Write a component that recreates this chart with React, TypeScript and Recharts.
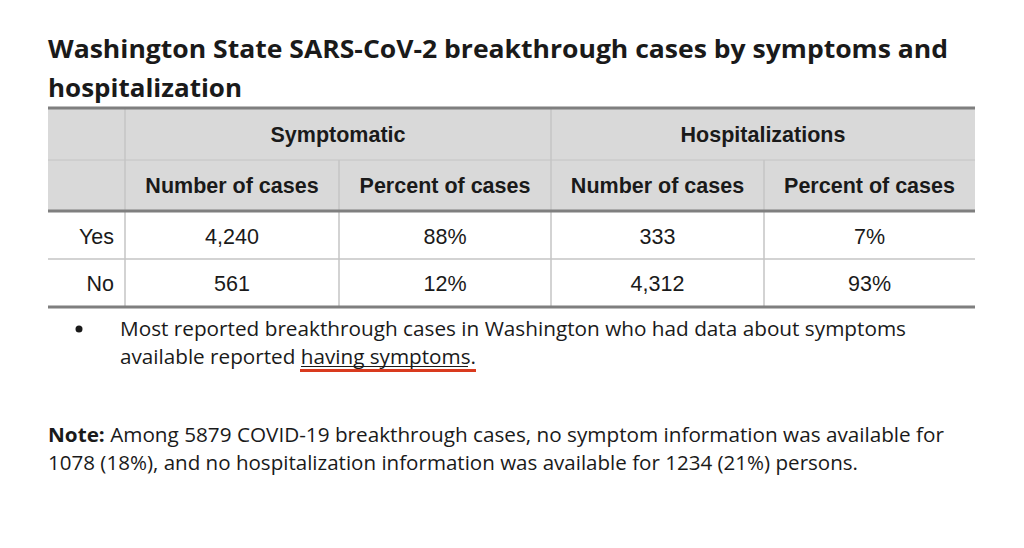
import React from 'react'
import { Surface, Rectangle, Text } from 'recharts'

const rowLabels = ['Yes', 'No']
const groupLabels = ['Symptomatic', 'Hospitalizations']
const subLabels = ['Number of cases', 'Percent of cases']
const symptomaticCases = [4240, 561]
const symptomaticPercent = [88, 12]
const hospitalizedCases = [333, 4312]
const hospitalizedPercent = [7, 93]

const colEdges = [48, 125, 339, 551, 764, 975]
const rowEdges = [108, 160, 211, 259, 307]

const INK = '#1a1a1a'
const HEAD_BG = '#d9d9d9'
const THICK = '#7f7f7f'
const THIN = '#c4c4c4'
const ARIAL = '"Liberation Sans", Arial, sans-serif'
const BODY = '"Open Sans", "Noto Sans", sans-serif'
const CELL_SIZE = 21.5

const fmt = (n: number) => n.toLocaleString('en-US')

export default function App() {
  const cells = [
    symptomaticCases.map(fmt),
    symptomaticPercent.map((v) => `${v}%`),
    hospitalizedCases.map(fmt),
    hospitalizedPercent.map((v) => `${v}%`),
  ]
  const mid = (a: number, b: number) => (a + b) / 2

  return (
    <div style={{ position: 'absolute', left: 0, top: 0, width: 1024, height: 548, background: '#fff' }}>
      <Surface width={1024} height={548} viewBox={{ x: 0, y: 0, width: 1024, height: 548 }}>
        {/* title */}
        <text x={48} y={58} fontFamily={BODY} fontWeight={700} fontSize={25} fill={INK}
          textLength={900} lengthAdjust="spacingAndGlyphs">
          Washington State SARS-CoV-2 breakthrough cases by symptoms and
        </text>
        <text x={48} y={97} fontFamily={BODY} fontWeight={700} fontSize={25} fill={INK}
          textLength={194} lengthAdjust="spacingAndGlyphs">
          hospitalization
        </text>

        {/* header background */}
        <Rectangle x={colEdges[0]} y={rowEdges[0]} width={colEdges[5] - colEdges[0]}
          height={rowEdges[2] - rowEdges[0]} fill={HEAD_BG} />

        {/* thin grid */}
        <line x1={colEdges[0]} x2={colEdges[5]} y1={rowEdges[1]} y2={rowEdges[1]} stroke={THIN} strokeWidth={1} />
        <line x1={colEdges[0]} x2={colEdges[5]} y1={rowEdges[3]} y2={rowEdges[3]} stroke={THIN} strokeWidth={1.5} />
        {[1, 3].map((i) => (
          <line key={`v${i}`} x1={colEdges[i]} x2={colEdges[i]} y1={rowEdges[0]} y2={rowEdges[4]} stroke={THIN} strokeWidth={1.5} />
        ))}
        {[2, 4].map((i) => (
          <line key={`w${i}`} x1={colEdges[i]} x2={colEdges[i]} y1={rowEdges[1]} y2={rowEdges[4]} stroke={THIN} strokeWidth={1.5} />
        ))}

        {/* thick rules */}
        {[0, 2, 4].map((i) => (
          <line key={`h${i}`} x1={colEdges[0]} x2={colEdges[5]} y1={rowEdges[i]} y2={rowEdges[i]} stroke={THICK} strokeWidth={3} />
        ))}

        {/* group headers */}
        {groupLabels.map((g, gi) => (
          <Text key={g} x={mid(colEdges[1 + gi * 2], colEdges[3 + gi * 2])} y={142} textAnchor="middle"
            fontFamily={ARIAL} fontWeight={700} fontSize={CELL_SIZE} fill={INK}>
            {g}
          </Text>
        ))}
        {[0, 1, 2, 3].map((c) => (
          <Text key={`s${c}`} x={mid(colEdges[c + 1], colEdges[c + 2])} y={193} textAnchor="middle"
            fontFamily={ARIAL} fontWeight={700} fontSize={CELL_SIZE} fill={INK}>
            {subLabels[c % 2]}
          </Text>
        ))}

        {/* body */}
        {rowLabels.map((r, ri) => (
          <g key={r}>
            <Text x={114} y={244 + ri * 47} textAnchor="end" fontFamily={ARIAL} fontSize={CELL_SIZE} fill={INK}>
              {r}
            </Text>
            {cells.map((col, c) => (
              <Text key={c} x={mid(colEdges[c + 1], colEdges[c + 2])} y={244 + ri * 47} textAnchor="middle"
                fontFamily={ARIAL} fontSize={CELL_SIZE} fill={INK}>
                {col[ri]}
              </Text>
            ))}
          </g>
        ))}

        {/* bullet */}
        <circle cx={79} cy={329} r={3.5} fill={INK} />
        <text x={120} y={336} fontFamily={BODY} fontSize={20} fill={INK}
          textLength={786} lengthAdjust="spacingAndGlyphs">
          Most reported breakthrough cases in Washington who had data about symptoms
        </text>
        <text x={120} y={364} fontFamily={BODY} fontSize={20} fill={INK}
          textLength={356} lengthAdjust="spacingAndGlyphs">
          available reported having symptoms.
        </text>
        <line x1={301} x2={468} y1={366.5} y2={366.5} stroke={INK} strokeWidth={1} />
        <line x1={300} x2={476} y1={370.5} y2={370.5} stroke="#d93a1e" strokeWidth={3} />

        {/* note */}
        <text x={48} y={442} fontFamily={BODY} fontSize={20} fill={INK}
          textLength={896} lengthAdjust="spacingAndGlyphs">
          <tspan fontWeight={700}>Note:</tspan> Among 5879 COVID-19 breakthrough cases, no symptom information was available for
        </text>
        <text x={48} y={470} fontFamily={BODY} fontSize={20} fill={INK}
          textLength={810} lengthAdjust="spacingAndGlyphs">
          1078 (18%), and no hospitalization information was available for 1234 (21%) persons.
        </text>
      </Surface>
    </div>
  )
}
